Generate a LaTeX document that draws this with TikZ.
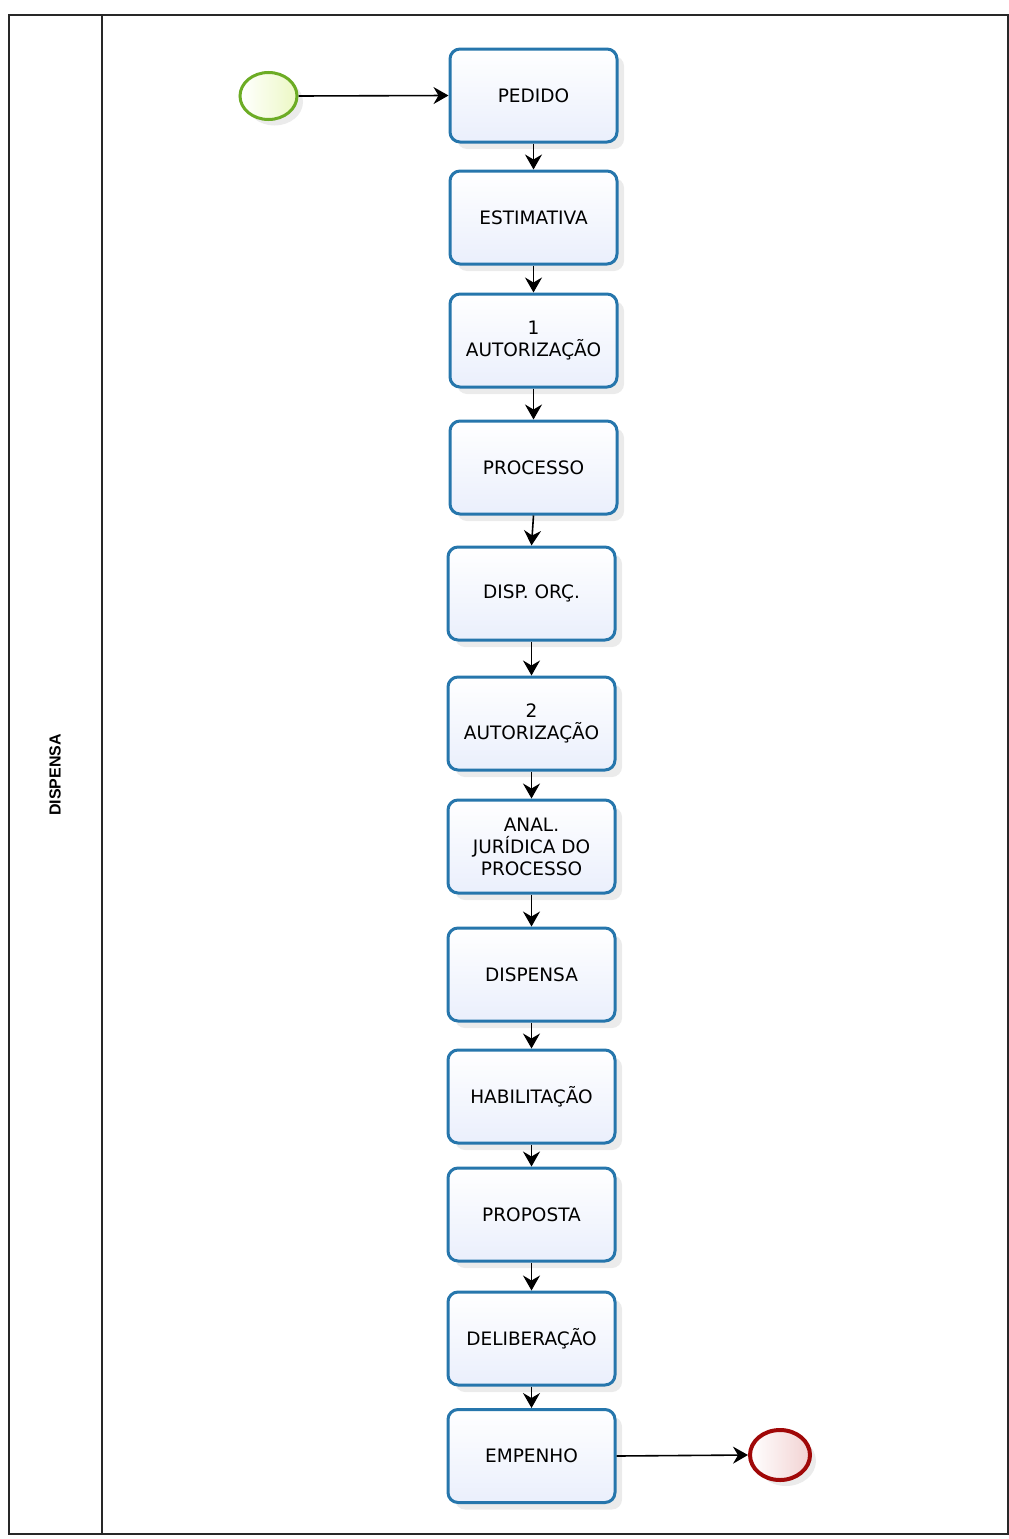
\documentclass[tikz,border=0pt]{standalone}
\usepackage{fontspec}
\setmainfont{DejaVu Sans}
\newfontfamily\lanefont{Liberation Sans}
\usetikzlibrary{arrows.meta,shapes.geometric,shadows}
\definecolor{boxblue}{RGB}{38,118,172}
\definecolor{boxfill}{RGB}{234,239,252}
\definecolor{startgreen}{RGB}{108,172,36}
\definecolor{startfill}{RGB}{236,248,196}
\definecolor{endred}{RGB}{160,8,8}
\definecolor{endfill}{RGB}{242,210,210}
\definecolor{framegray}{RGB}{40,40,40}
\tikzset{
  taskbox/.style={draw=boxblue, line width=3pt, rounded corners=10pt,
    minimum width=167pt, minimum height=93pt, align=center,
    top color=white, bottom color=boxfill,
    font=\fontsize{18.5}{22}\selectfont,
    drop shadow={shadow xshift=7pt, shadow yshift=-7pt, opacity=0.16, fill=gray}},
  startev/.style={ellipse, draw=startgreen, line width=3pt, minimum width=57pt, minimum height=47pt,
    left color=white, right color=startfill,
    drop shadow={shadow xshift=6pt, shadow yshift=-6pt, opacity=0.16, fill=gray}},
  endev/.style={ellipse, draw=endred, line width=4pt, minimum width=60pt, minimum height=50pt,
    left color=white, right color=endfill,
    drop shadow={shadow xshift=6pt, shadow yshift=-6pt, opacity=0.16, fill=gray}},
  flow/.style={draw=black, line width=1.6pt, -{Stealth[length=15pt,width=17pt,inset=5pt]}},
  frame/.style={draw=framegray, line width=2pt}
}
\begin{document}
\begin{tikzpicture}[x=1pt,y=-1pt]
\useasboundingbox (0,0) rectangle (1009,1539);
% pool frame
\draw[frame] (9,15) rectangle (1008,1534);
\draw[frame] (102,15) -- (102,1534);
\node[rotate=90, font=\lanefont\bfseries\fontsize{16}{18}\selectfont] (lane) at (55,775) {DISPENSA};
% events
\node[startev] (start) at (268.5,96) {};
\node[endev] (end) at (780,1455) {};
% tasks
\node[taskbox] (b1) at (533.5,95.5) {PEDIDO};
\node[taskbox] (b2) at (533.5,217.5) {ESTIMATIVA};
\node[taskbox] (b3) at (533.5,340.5) {1\\AUTORIZAÇÃO};
\node[taskbox] (b4) at (533.5,467.5) {PROCESSO};
\node[taskbox] (b5) at (531.5,593.5) {DISP. ORÇ.};
\node[taskbox] (b6) at (531.5,723.5) {2\\AUTORIZAÇÃO};
\node[taskbox] (b7) at (531.5,846.5) {ANAL.\\JURÍDICA DO\\PROCESSO};
\node[taskbox] (b8) at (531.5,974.5) {DISPENSA};
\node[taskbox] (b9) at (531.5,1096.5) {HABILITAÇÃO};
\node[taskbox] (b10) at (531.5,1214.5) {PROPOSTA};
\node[taskbox] (b11) at (531.5,1338.5) {DELIBERAÇÃO};
\node[taskbox] (b12) at (531.5,1456) {EMPENHO};
% connectors
\draw[flow] (start.east) -- (b1.west);
\foreach \a/\b in {b1/b2,b2/b3,b3/b4,b4/b5,b5/b6,b6/b7,b7/b8,b8/b9,b9/b10,b10/b11,b11/b12}
  \draw[flow] (\a.south) -- (\b.north);
\draw[flow] (b12.east) -- (end.west);
\end{tikzpicture}
\end{document}
